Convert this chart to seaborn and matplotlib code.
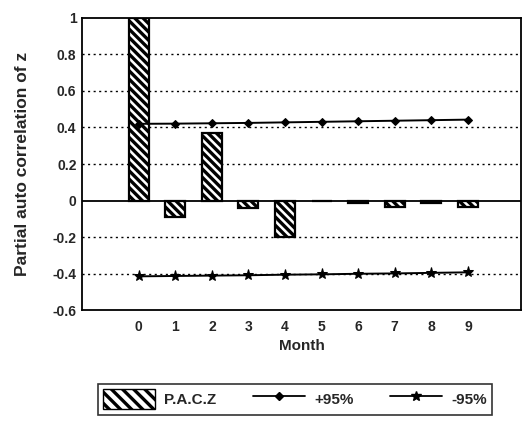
import matplotlib
matplotlib.use("Agg")
import matplotlib.pyplot as plt
import seaborn as sns
import pandas as pd
import numpy as np

months = [0, 1, 2, 3, 4, 5, 6, 7, 8, 9]
pacz = [1.0, -0.09, 0.37, -0.04, -0.20, -0.005, -0.015, -0.035, -0.012, -0.035]
upper95 = [0.420, 0.421, 0.423, 0.425, 0.428, 0.431, 0.434, 0.437, 0.440, 0.443]
lower95 = [-0.415, -0.413, -0.411, -0.409, -0.406, -0.404, -0.401, -0.399, -0.396, -0.393]
ytick_vals = [-0.6, -0.4, -0.2, 0, 0.2, 0.4, 0.6, 0.8, 1]
ytick_labels = ["-0.6", "-0.4", "-0.2", "0", "0.2", "0.4", "0.6", "0.8", "1"]

sns.set_style("white")
plt.rcParams['font.family'] = ['Liberation Sans', 'DejaVu Sans']
plt.rcParams['hatch.linewidth'] = 2.4

df = pd.DataFrame({"Month": months, "PACZ": pacz, "up": upper95, "lo": lower95})

fig = plt.figure(figsize=(5.22, 4.26), dpi=100)
ax = fig.add_axes([0.157, 0.272, 0.841, 0.686])

# grid
for v in [-0.4, -0.2, 0.2, 0.4, 0.6, 0.8]:
    ax.axhline(v, color='black', linestyle=(0, (1.5, 2.5)), linewidth=1.0, zorder=0)
ax.axhline(0, color='black', linewidth=1.3, zorder=1)

HATCH = '\\\\\\\\'
sns.barplot(data=df, x="Month", y="PACZ", native_scale=True, width=0.55,
            color='white', edgecolor='black', linewidth=1.6, hatch=HATCH,
            ax=ax, zorder=2, errorbar=None)

sns.lineplot(data=df, x="Month", y="up", color='black', marker='D', markersize=4,
             linewidth=1.4, ax=ax, zorder=3, markeredgecolor='black')
sns.lineplot(data=df, x="Month", y="lo", color='black', marker='*', markersize=8,
             linewidth=1.4, ax=ax, zorder=3, markeredgecolor='black')

ax.set_xlim(-1.55, 10.45)
ax.set_ylim(-0.6, 1.0)
ax.set_xticks(months)
ax.set_xticklabels([str(m) for m in months], fontsize=10, fontweight='bold')
ax.set_yticks(ytick_vals)
ax.set_yticklabels(ytick_labels, fontsize=10, fontweight='bold')
ax.tick_params(axis='y', direction='inout', length=6, width=1, pad=1)
ax.tick_params(axis='x', length=0, pad=7)
for s in ax.spines.values():
    s.set_color('black')
    s.set_linewidth(1.3)
ax.set_xlabel("Month", fontsize=11, fontweight='bold', labelpad=4)
ax.set_ylabel("Partial auto correlation of z", fontsize=12.5, fontweight='bold', labelpad=16)

from matplotlib.patches import Patch
from matplotlib.lines import Line2D
handles = [Patch(facecolor='white', edgecolor='black', hatch='\\\\\\', linewidth=1),
           Line2D([0], [0], color='black', marker='D', markersize=4, linewidth=1.3),
           Line2D([0], [0], color='black', marker='*', markersize=7, linewidth=1.3)]
labels = ["P.A.C.Z", "+95%", "-95%"]
leg = fig.legend(handles, labels, loc='center', bbox_to_anchor=(0.565, 0.063), ncol=3,
                 frameon=True, fancybox=False, edgecolor='black',
                 prop={'weight': 'bold', 'size': 11}, handlelength=3.4, handleheight=1.7,
                 handletextpad=0.6, columnspacing=2.4, borderpad=0.35,
                 borderaxespad=0)
leg.get_frame().set_linewidth(1.2)

fig.savefig("out.png", dpi=100)
